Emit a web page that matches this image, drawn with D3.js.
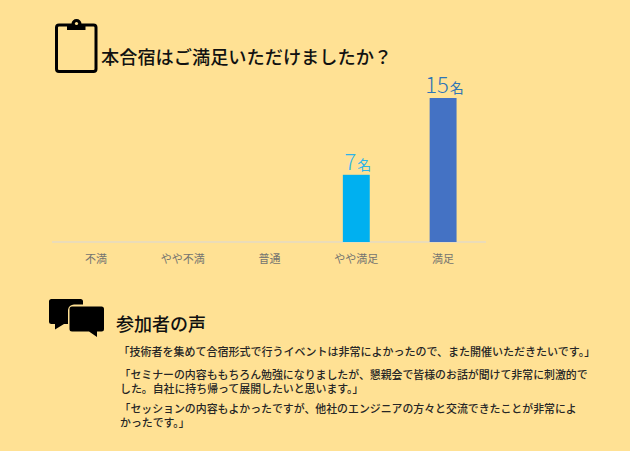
<!DOCTYPE html>
<html lang="ja"><head><meta charset="utf-8">
<script src="https://cdn.jsdelivr.net/npm/d3@7/dist/d3.min.js"></script>
<style>html,body{margin:0;padding:0;background:#FFE194;overflow:hidden}svg{display:block}
text{font-family:"Noto Sans CJK JP","Noto Sans",sans-serif}</style></head><body>
<svg id="c" width="630" height="451"></svg>
<script>
const categories = ["不満","やや不満","普通","やや満足","満足"];
const counts = [0,0,0,7,15];
const barColors = ["#00B0F0","#00B0F0","#00B0F0","#00B0F0","#4472C4"];
const labelColors = ["#2EB4E8","#2EB4E8","#2EB4E8","#2EB4E8","#2E75B6"];
const title = "本合宿はご満足いただけましたか？";
const voicesTitle = "参加者の声";
const voiceLines = [
 "「技術者を集めて合宿形式で行うイベントは非常によかったので、また開催いただきたいです。」",
 "「セミナーの内容ももちろん勉強になりましたが、懇親会で皆様のお話が聞けて非常に刺激的で",
 "した。自社に持ち帰って展開したいと思います。」",
 "「セッションの内容もよかったですが、他社のエンジニアの方々と交流できたことが非常によ",
 "かったです。」"
];
const svg = d3.select("#c");
const x = d3.scaleBand().domain(categories).range([52.500,486.500]).paddingInner(0.69).paddingOuter(0.345);
const y = d3.scaleLinear().domain([0,15]).range([242,98]);

svg.append("line").attr("x1",52).attr("x2",486).attr("y1",y(0)).attr("y2",y(0)).attr("stroke","#E4DAC4").attr("stroke-width",1.5);
const active = categories.map((c,i)=>({c,v:counts[i],i}));
svg.selectAll("rect.bar").data(active.filter(d=>d.v>0)).join("rect").attr("class","bar")
  .attr("x",d=>x(d.c)).attr("width",x.bandwidth()).attr("y",d=>y(d.v)).attr("height",d=>y(0)-y(d.v))
  .attr("fill",d=>barColors[d.i]);
svg.selectAll("text.cat").data(categories).join("text").attr("class","cat")
  .attr("x",d=>x(d)+x.bandwidth()/2).attr("y",263).attr("text-anchor","middle")
  .attr("font-size",11).attr("fill","#747470").text(d=>d);
const val = svg.selectAll("text.val").data(active.filter(d=>d.v>0)).join("text").attr("class","val")
  .attr("x",d=>x(d.c)+x.bandwidth()/2+1.5).attr("y",d=>y(d.v)-5).attr("text-anchor","middle")
  .attr("fill",d=>labelColors[d.i]);
val.append("tspan").attr("font-size",22).attr("font-weight",300).text(d=>d.v);
val.append("tspan").attr("font-size",14).attr("dx",1).text("名");

svg.append("text").attr("x",101).attr("y",64).attr("font-size",18.2).attr("font-weight",500).attr("fill","#111").text(title);
svg.append("text").attr("x",116).attr("y",331).attr("font-size",18).attr("font-weight",500).attr("fill","#111").text(voicesTitle);
const voiceX = i => [118.5,119.5,120,119.5,120][i];
const voiceY = i => [356,379,393,413,427][i];
const voiceSize = i => i===0 ? 11 : 10.9;
svg.selectAll("text.v").data(voiceLines).join("text").attr("class","v")
  .attr("x",(d,i)=>voiceX(i)).attr("y",(d,i)=>voiceY(i)).attr("font-size",(d,i)=>voiceSize(i))
  .attr("font-weight",500).attr("fill","#262626").text(d=>d);

// clipboard icon
const ic = svg.append("g");
ic.append("rect").attr("x",56.5).attr("y",25).attr("width",39.5).attr("height",46.5).attr("rx",2.5).attr("fill","none").attr("stroke","#000").attr("stroke-width",3);
ic.append("path").attr("d","M67 24h4.500a5 5 0 0 1 10 0h4v6H67z").attr("fill","#000");
ic.append("circle").attr("cx",76.5).attr("cy",23.5).attr("r",1.6).attr("fill","#FFE194");
// speech bubbles
const b = svg.append("g").attr("fill","#000");
b.append("path").attr("d","M51 299h29.500a2.500 2.500 0 0 1 2.500 2.500v3h-9a6 6 0 0 0 -6 5.500v14h-4l-9 5.500v-5.500h-3.500a2.500 2.500 0 0 1 -2.500 -2.500v-20a2.500 2.500 0 0 1 2.500 -2.500z");
b.append("path").attr("d","M72 306.500h29.500a2.500 2.500 0 0 1 2.500 2.500v20a2.500 2.500 0 0 1 -2.500 2.500h-4.500v5.500l-8 -5.500h-17a2.500 2.500 0 0 1 -2.500 -2.500v-20a2.500 2.500 0 0 1 2.500 -2.500z");
</script></body></html>
